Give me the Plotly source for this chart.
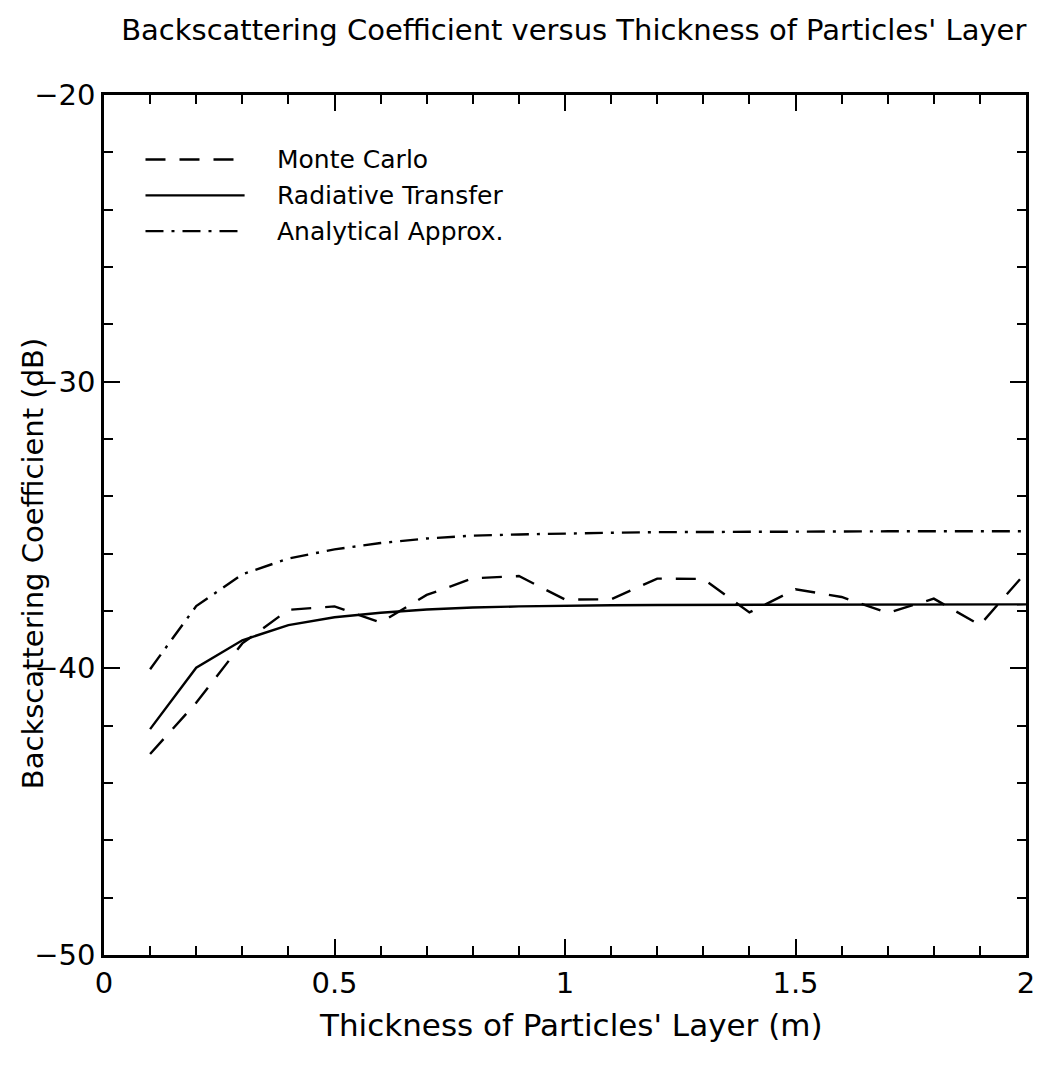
import plotly.graph_objects as go

# Layer thickness (m)
thickness = [0.1, 0.2, 0.3, 0.4, 0.5, 0.6, 0.7, 0.8, 0.9, 1.0,
             1.1, 1.2, 1.3, 1.4, 1.5, 1.6, 1.7, 1.8, 1.9, 2.0]

# Backscattering coefficient (dB) for each method
monte_carlo = [-42.99, -41.20, -39.13, -37.96, -37.84, -38.40, -37.44, -36.86, -36.78, -37.60,
               -37.59, -36.87, -36.88, -38.05, -37.24, -37.51, -38.07, -37.57, -38.49, -36.65]
radiative_transfer = [-42.12, -39.98, -39.02, -38.49, -38.22, -38.06, -37.95, -37.88, -37.84, -37.81,
                      -37.80, -37.79, -37.79, -37.78, -37.78, -37.78, -37.77, -37.77, -37.77, -37.77]
analytical_approx = [-40.03, -37.83, -36.72, -36.17, -35.85, -35.63, -35.47, -35.37, -35.33, -35.29,
                     -35.27, -35.25, -35.24, -35.23, -35.23, -35.22, -35.22, -35.22, -35.22, -35.22]

series_names = ["Monte Carlo", "Radiative Transfer", "Analytical Approx."]

FONT = "DejaVu Sans"
DASH = "20px,14px"
DASHDOT = "18px,8px,3px,8px"
LW = 2.4

fig = go.Figure()
for name, ys, dash in zip(series_names,
                          [monte_carlo, radiative_transfer, analytical_approx],
                          [DASH, "solid", DASHDOT]):
    fig.add_trace(go.Scatter(x=thickness, y=ys, mode="lines", name=name,
                             line=dict(color="black", width=LW, dash=dash),
                             showlegend=False))

# Hand-drawn legend in the upper-left corner of the plot
legend_rows_y = [-22.25, -23.5, -24.75]
for name, dash, yy in zip(series_names, [DASH, "solid", DASHDOT], legend_rows_y):
    fig.add_shape(type="line", xref="x", yref="y", x0=0.09, x1=0.305, y0=yy, y1=yy,
                  line=dict(color="black", width=LW, dash=dash))
    fig.add_annotation(x=0.37, y=yy, xref="x", yref="y", text=name, showarrow=False,
                       xanchor="left", yanchor="middle",
                       font=dict(family=FONT, size=25, color="black"))

# Axis titles placed as free annotations
fig.add_annotation(text="Thickness of Particles' Layer (m)", xref="paper", yref="paper",
                   x=0.5065, y=-0.0814, xanchor="center", yanchor="middle", showarrow=False,
                   font=dict(family=FONT, size=31, color="black"))
fig.add_annotation(text="Backscattering Coefficient (dB)", xref="paper", yref="paper",
                   x=-0.0776, y=0.455, xanchor="center", yanchor="middle", showarrow=False,
                   textangle=-90, font=dict(family=FONT, size=29, color="black"))

axis_common = dict(showline=True, linecolor="black", linewidth=2.5, mirror="allticks",
                   ticks="inside", tickcolor="black", tickwidth=2, ticklen=16,
                   showgrid=False, zeroline=False,
                   tickfont=dict(family=FONT, size=29, color="black"))

fig.update_xaxes(range=[0, 2], tickvals=[0, 0.5, 1, 1.5, 2], ticktext=["0", "0.5", "1", "1.5", "2"],
                 minor=dict(dtick=0.1, ticks="inside", ticklen=9, tickwidth=2, tickcolor="black"),
                 **axis_common)
fig.update_yaxes(range=[-50, -20], tickvals=[-50, -40, -30, -20],
                 minor=dict(dtick=2, ticks="inside", ticklen=9, tickwidth=2, tickcolor="black"),
                 **axis_common)

fig.update_layout(
    width=1047, height=1067,
    margin=dict(l=104, r=15, t=95, b=112),
    paper_bgcolor="white", plot_bgcolor="white",
    title=dict(text="Backscattering Coefficient versus Thickness of Particles' Layer",
               x=0.548, xanchor="center", y=0.972, yanchor="middle",
               font=dict(family=FONT, size=29, color="black")),
)

fig.write_html("out.html")
